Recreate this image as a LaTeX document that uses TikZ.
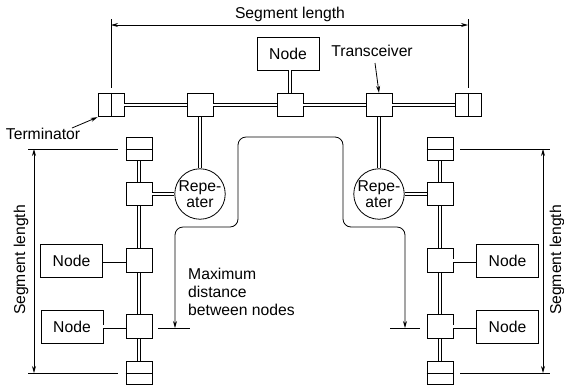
\documentclass[tikz,border=0pt]{standalone}
\usepackage{fontspec}
\setmainfont{Liberation Sans}
\usetikzlibrary{arrows.meta,calc}
\begin{document}
\begin{tikzpicture}[x=1pt,y=-1pt,
  every node/.style={font=\fontsize{15.7}{18}\selectfont},
  box/.style={draw, line width=0.8pt, minimum width=26pt, minimum height=23.5pt, inner sep=0pt},
  nodebox/.style={draw, line width=0.8pt, minimum width=62pt, minimum height=33pt, inner sep=0pt},
  rep/.style={draw, circle, line width=0.8pt, minimum size=50pt, inner sep=0pt, align=center, font=\fontsize{15.7}{16}\selectfont},
  bus/.style={double, double distance=2.4pt, line width=0.8pt},
  thinln/.style={line width=0.8pt},
  arr/.style={line width=0.8pt, -{Stealth[length=7pt,width=4pt]}},
  darr/.style={line width=0.8pt, {Stealth[length=7pt,width=4pt]}-{Stealth[length=7pt,width=4pt]}},
]
\useasboundingbox (0,0) rectangle (564,384);
\clip (0,0) rectangle (564,384);

% top bus
\node[box] (tl) at (111,105) {};
\node[box] (b2) at (200,105) {};
\node[box] (b3) at (290,105) {};
\node[box] (b4) at (379,105) {};
\node[box] (tr) at (468,105) {};
\draw[thinln] (tl.north) -- (tl.south);
\draw[thinln] (tr.north) -- (tr.south);
\node[nodebox] (ntop) at (288,53.5) {Node};
\draw[bus] (tl) -- (b2);
\draw[bus] (b2) -- (b3);
\draw[bus] (b3) -- (b4);
\draw[bus] (b4) -- (tr);
\draw[bus] (b3.north) -- (b3.north |- ntop.south);

% repeaters
\node[rep] (repL) at (200,194) {Repe-\\ater};
\node[rep] (repR) at (379,194) {Repe-\\ater};
\draw[bus] (b2) -- (repL);
\draw[bus] (b4) -- (repR);

% left vertical segment
\node[box] (Lt) at (139,149) {};
\node[box] (L1) at (139,194) {};
\node[box] (L2) at (139,260.5) {};
\node[box] (L3) at (139,326.5) {};
\node[box] (Lb) at (139,373) {};
\draw[thinln] (Lt.west) -- (Lt.east);
\draw[thinln] (Lb.west) -- (Lb.east);
\draw[bus] (Lt) -- (L1);
\draw[bus] (L1) -- (L2);
\draw[bus] (L2) -- (L3);
\draw[bus] (L3) -- (Lb);
\draw[bus] (repL) -- (L1);
\node[nodebox] (nL2) at (71.5,260.5) {Node};
\node[nodebox] (nL3) at (72,326.5) {Node};
\draw[bus] (nL2) -- (L2);
\draw[bus] (nL3) -- (L3);

% right vertical segment
\node[box] (Rt) at (440,149) {};
\node[box] (R1) at (440,194) {};
\node[box] (R2) at (440,260.5) {};
\node[box] (R3) at (440,326.5) {};
\node[box] (Rb) at (440,373) {};
\draw[thinln] (Rt.west) -- (Rt.east);
\draw[thinln] (Rb.west) -- (Rb.east);
\draw[bus] (Rt) -- (R1);
\draw[bus] (R1) -- (R2);
\draw[bus] (R2) -- (R3);
\draw[bus] (R3) -- (Rb);
\draw[bus] (repR) -- (R1);
\node[nodebox] (nR2) at (507.5,260.5) {Node};
\node[nodebox] (nR3) at (507.5,326.5) {Node};
\draw[bus] (R2) -- (nR2);
\draw[bus] (R3) -- (nR3);

% top segment length
\coordinate (ta1) at (111,19);
\coordinate (ta2) at (111,88);
\coordinate (tb1) at (468,19);
\coordinate (tb2) at (468,88);
\coordinate (tx1) at (111,25);
\coordinate (tx2) at (468,25);
\draw[thinln] (ta1) -- (ta2);
\draw[thinln] (tb1) -- (tb2);
\draw[darr] (tx1) -- (tx2);
\node (segtop) at (290,14) {Segment length};

% left segment length
\coordinate (la1) at (28,149);
\coordinate (la2) at (118,149);
\coordinate (lb1) at (28,373);
\coordinate (lb2) at (118,373);
\coordinate (lx1) at (34,149);
\coordinate (lx2) at (34,373);
\draw[thinln] (la1) -- (la2);
\draw[thinln] (lb1) -- (lb2);
\draw[darr] (lx1) -- (lx2);
\node[rotate=90] (segL) at (21,260) {Segment length};

% right segment length
\coordinate (ra1) at (460,149);
\coordinate (ra2) at (550,149);
\coordinate (rb1) at (460,373);
\coordinate (rb2) at (550,373);
\coordinate (rx1) at (543,149);
\coordinate (rx2) at (543,373);
\draw[thinln] (ra1) -- (ra2);
\draw[thinln] (rb1) -- (rb2);
\draw[darr] (rx1) -- (rx2);
\node[rotate=90] (segR) at (557,260) {Segment length};

% labels
\node (term) at (43,134) {Terminator};
\coordinate (termA) at (72,128);
\draw[arr] (termA) -- (tl.south west);
\node (trans) at (372,51) {Transceiver};
\coordinate (transA) at (375,63);
\draw[arr] (transA) -- (b4.north);

% maximum distance
\coordinate (m1) at (175,328);
\coordinate (m8) at (405,328);
\draw[darr, rounded corners=8pt] (m1) -- (175,227) -- (238,227) -- (238,137) -- (343,137) -- (343,227) -- (405,227) -- (m8);
\coordinate (k1) at (158,328);
\coordinate (k2) at (190,328);
\coordinate (k3) at (390,328);
\coordinate (k4) at (420,328);
\draw[thinln] (k1) -- (k2);
\draw[thinln] (k3) -- (k4);
\node[align=left, anchor=north west, inner sep=0pt, font=\fontsize{15.7}{18}\selectfont] (maxd) at (188,268) {Maximum\\distance\\between nodes};
\end{tikzpicture}
\end{document}
